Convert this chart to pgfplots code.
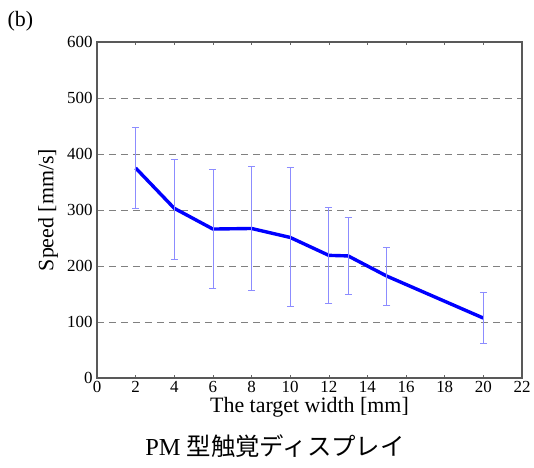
\documentclass[border=0pt]{standalone}
\usepackage{fontspec}
\setmainfont{Liberation Serif}
\newfontfamily\cjk{Noto Sans CJK JP}
\usepackage{pgfplots}
\pgfplotsset{compat=1.18}
\usepackage{pgfplotstable}
\pgfplotstableread{
x y ep em
2 375 73 72
4 303 88 91
6 266 106 106
8 267 111 110
10 251 125 124
12 219 86 86
13 218 69 69
15 182 51 52
20 107 45 46
}\speed
\begin{document}
\begin{tikzpicture}
\useasboundingbox (-97bp,-90bp) rectangle (437bp,378bp);
\begin{axis}[
  at={(0,0)}, anchor=south west,
  scale only axis, width=425bp, height=336bp,
  xmin=0, xmax=22, ymin=0, ymax=600,
  xtick={0,2,...,22}, ytick={0,100,...,600},
  tick align=inside,
  major tick length=3bp,
  ytick style={draw=none},
  xtick style={draw=black!60, line width=0.6bp},
  axis line style={draw=black!65, line width=1.3bp},
  ymajorgrids,
  grid style={dash pattern=on 7bp off 5bp, black!50, line width=0.7bp},
  tick label style={font=\fontsize{17}{18}\selectfont},
  /pgf/number format/assume math mode=true,
  yticklabel style={xshift=-1bp},
  xlabel={The target width [mm]},
  ylabel={Speed [mm/s]},
  xlabel style={font=\fontsize{22}{24}\selectfont, at={(axis description cs:0.5,0)}, anchor=center, yshift=-29bp},
  ylabel style={font=\fontsize{22}{24}\selectfont, at={(axis description cs:0,0.5)}, anchor=center, yshift=49bp},
  clip=false,
]
\addplot[blue, line width=3.4bp, no marks,
  error bars/.cd, y dir=both, y explicit,
  error bar style={line width=0.8bp, blue!45},
  error mark=-,
  error mark options={rotate=90, line width=0.8bp, blue!45, mark size=3.5bp}]
  table[x=x, y=y, y error plus=ep, y error minus=em]{\speed};
\end{axis}
\node[anchor=west, font=\fontsize{22}{24}\selectfont] at (-93bp,357bp) {(b)};
\node[font=\fontsize{24.5}{26}\selectfont] at (178bp,-68bp) {PM {\cjk 型触覚ディスプレイ}};
\end{tikzpicture}
\end{document}
